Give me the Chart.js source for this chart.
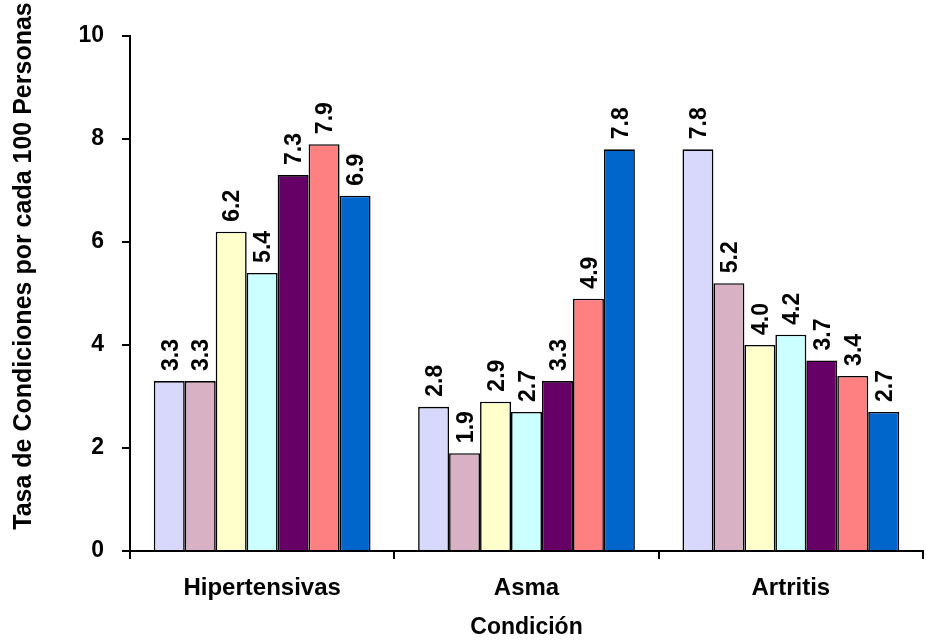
<!DOCTYPE html>
<html>
<head>
<meta charset="utf-8">
<script src="https://cdn.jsdelivr.net/npm/chart.js@4/dist/chart.umd.min.js"></script>
<style>
  html, body { margin: 0; padding: 0; background: #ffffff; }
  #wrap { width: 926px; height: 642px; position: relative; }
</style>
</head>
<body>
<div id="wrap"><canvas id="c" width="926" height="642"></canvas></div>
<script>
// ---- data ----
const categories = ["Hipertensivas", "Asma", "Artritis"];
const seriesNames = ["Serie 1", "Serie 2", "Serie 3", "Serie 4", "Serie 5", "Serie 6", "Serie 7"];
const serie1 = [3.3, 2.8, 7.8];
const serie2 = [3.3, 1.9, 5.2];
const serie3 = [6.2, 2.9, 4.0];
const serie4 = [5.4, 2.7, 4.2];
const serie5 = [7.3, 3.3, 3.7];
const serie6 = [7.9, 4.9, 3.4];
const serie7 = [6.9, 7.8, 2.7];
const yTickValues = [0, 2, 4, 6, 8, 10];
const yTitle = "Tasa de Condiciones por cada 100 Personas";
const xTitle = "Condición";

// ---- styles ----
const FONT = '"Liberation Sans", Arial, Helvetica, sans-serif';
const colors = ["#D8D8FC", "#D8B2C4", "#FFFFCC", "#CCFFFF", "#660066", "#FF8080", "#0066CC"];
const allSeries = [serie1, serie2, serie3, serie4, serie5, serie6, serie7];

const datasets = allSeries.map((vals, i) => ({
  label: seriesNames[i],
  data: vals,
  backgroundColor: colors[i],
  borderColor: "#000000",
  borderWidth: 1.6,
  borderSkipped: "start",
  barPercentage: 1.0,
  categoryPercentage: 0.82
}));

const valueLabels = {
  id: "valueLabels",
  afterDatasetsDraw(chart) {
    const ctx = chart.ctx;
    const fs = 23;
    ctx.save();
    ctx.font = "bold " + fs + "px " + FONT;
    ctx.fillStyle = "#000000";
    ctx.textAlign = "left";
    ctx.textBaseline = "alphabetic";
    chart.data.datasets.forEach((ds, di) => {
      const meta = chart.getDatasetMeta(di);
      meta.data.forEach((bar, i) => {
        const v = ds.data[i];
        const txt = v.toFixed(1);
        ctx.save();
        ctx.translate(bar.x + fs * 0.358, bar.y - 10);
        ctx.rotate(-Math.PI / 2);
        ctx.fillText(txt, 0, 0);
        ctx.restore();
      });
    });
    ctx.restore();
  }
};

const yTitlePlugin = {
  id: "yTitlePlugin",
  afterDraw(chart) {
    const ctx = chart.ctx;
    const fs = 25;
    ctx.save();
    ctx.font = "bold " + fs + "px " + FONT;
    ctx.fillStyle = "#000000";
    ctx.textAlign = "center";
    ctx.textBaseline = "alphabetic";
    ctx.translate(31, 266);
    ctx.rotate(-Math.PI / 2);
    ctx.fillText(yTitle, 0, 0);
    ctx.restore();
  }
};

new Chart(document.getElementById("c"), {
  type: "bar",
  data: { labels: categories, datasets: datasets },
  options: {
    responsive: false,
    animation: false,
    devicePixelRatio: 1,
    layout: { padding: { left: 0, top: 36, right: 3, bottom: 0 } },
    plugins: {
      legend: { display: false },
      tooltip: { enabled: false },
      title: { display: false }
    },
    scales: {
      x: {
        type: "category",
        offset: true,
        grid: {
          offset: true,
          drawOnChartArea: false,
          drawTicks: true,
          tickLength: 8,
          color: "#000000",
          lineWidth: 2
        },
        border: { display: true, color: "#000000", width: 2 },
        ticks: {
          color: "#000000",
          font: { family: FONT, size: 24, weight: "bold" },
          padding: 15,
          maxRotation: 0,
          autoSkip: false
        },
        title: {
          display: true,
          text: xTitle,
          color: "#000000",
          font: { family: FONT, size: 23, weight: "bold" },
          padding: { top: 0, bottom: 1 }
        },
        afterFit(scale) { scale.height = 91; }
      },
      y: {
        min: 0,
        max: 10,
        grid: {
          drawOnChartArea: false,
          drawTicks: true,
          tickLength: 8,
          color: "#000000",
          lineWidth: 2
        },
        border: { display: true, color: "#000000", width: 2 },
        afterBuildTicks(scale) { scale.ticks = yTickValues.map(v => ({ value: v })); },
        ticks: {
          color: "#000000",
          font: { family: FONT, size: 23, weight: "bold" },
          padding: 18,
          callback: (v) => String(v)
        },
        afterFit(scale) { scale.width = 130; }
      }
    }
  },
  plugins: [valueLabels, yTitlePlugin]
});
</script>
</body>
</html>
